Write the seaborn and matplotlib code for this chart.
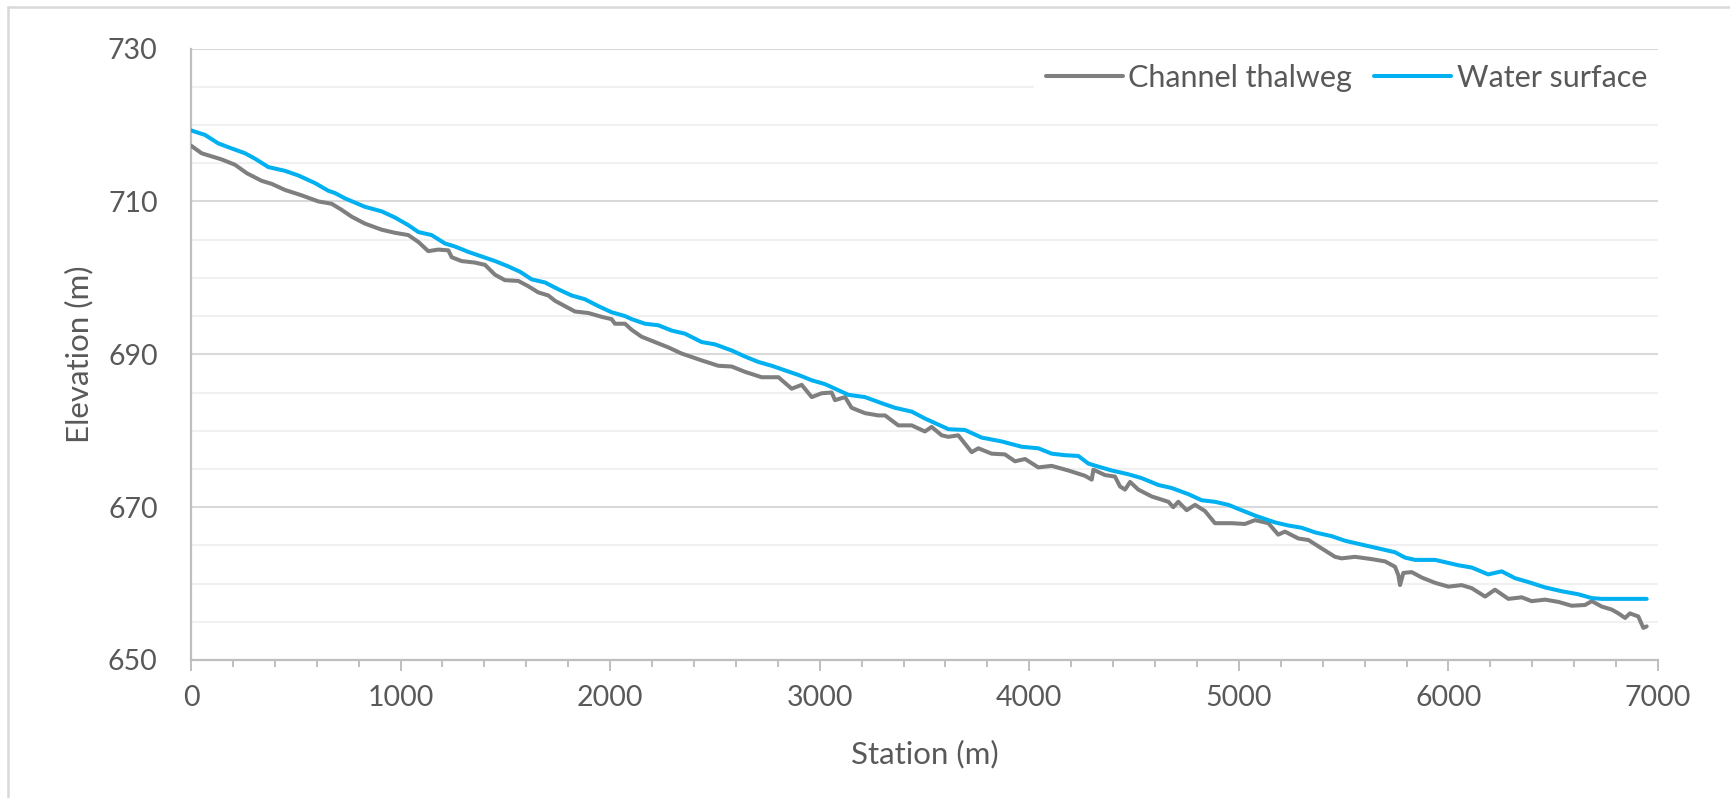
import numpy as np
import pandas as pd
import matplotlib
matplotlib.use("Agg")
import matplotlib.pyplot as plt
from matplotlib.lines import Line2D
from matplotlib.ticker import MultipleLocator
import seaborn as sns

# ---------------- data ----------------
thalweg_station = [0, 51, 146, 210, 266, 337, 385, 449, 528, 608, 671, 719, 767, 830, 910, 973,
                   1037, 1085, 1132, 1180, 1228, 1244, 1291, 1355, 1403, 1451, 1498, 1562, 1610,
                   1657, 1705, 1737, 1785, 1832, 1896, 1960, 2007, 2023, 2071, 2103, 2150, 2214,
                   2278, 2341, 2437, 2516, 2580, 2644, 2723, 2803, 2866, 2914, 2962, 3009, 3057,
                   3073, 3121, 3152, 3216, 3280, 3312, 3375, 3439, 3502, 3534, 3582, 3614, 3661,
                   3725, 3757, 3820, 3884, 3932, 3980, 4043, 4107, 4186, 4266, 4298, 4306, 4361,
                   4409, 4433, 4457, 4481, 4520, 4584, 4664, 4687, 4711, 4751, 4791, 4838, 4886,
                   4966, 5029, 5077, 5141, 5188, 5220, 5284, 5332, 5395, 5459, 5491, 5554, 5634,
                   5698, 5745, 5761, 5769, 5785, 5825, 5872, 5936, 6000, 6063, 6111, 6175, 6222,
                   6286, 6350, 6397, 6461, 6525, 6588, 6652, 6684, 6731, 6779, 6811, 6843, 6866,
                   6906, 6930, 6946]
thalweg_elev = [717.3, 716.3, 715.5, 714.8, 713.7, 712.7, 712.3, 711.5, 710.8, 710.0, 709.7, 708.9,
                708.0, 707.1, 706.3, 705.9, 705.6, 704.7, 703.5, 703.7, 703.6, 702.7, 702.2, 702.0,
                701.7, 700.4, 699.7, 699.6, 698.9, 698.1, 697.7, 697.0, 696.3, 695.6, 695.4, 694.9,
                694.6, 694.0, 694.0, 693.2, 692.3, 691.6, 690.9, 690.1, 689.2, 688.5, 688.4, 687.7,
                687.0, 687.0, 685.5, 686.0, 684.4, 684.9, 685.0, 684.0, 684.4, 683.0, 682.3, 682.0,
                682.0, 680.7, 680.7, 679.9, 680.5, 679.4, 679.2, 679.4, 677.2, 677.7, 677.0, 676.9,
                676.0, 676.3, 675.2, 675.4, 674.8, 674.1, 673.6, 674.9, 674.2, 674.0, 672.7, 672.3,
                673.3, 672.3, 671.4, 670.7, 670.0, 670.7, 669.6, 670.3, 669.5, 667.9, 667.9, 667.8,
                668.3, 667.9, 666.4, 666.8, 665.9, 665.7, 664.6, 663.5, 663.3, 663.5, 663.2, 662.9,
                662.2, 661.1, 659.8, 661.4, 661.5, 660.8, 660.1, 659.6, 659.8, 659.4, 658.3, 659.2,
                658.0, 658.2, 657.7, 657.9, 657.6, 657.1, 657.2, 657.7, 657.0, 656.6, 656.1, 655.5,
                656.1, 655.7, 654.2, 654.4]

water_station = [0, 67, 130, 178, 258, 305, 369, 449, 512, 592, 655, 687, 735, 830, 910, 973, 1037,
                 1085, 1148, 1212, 1260, 1323, 1387, 1451, 1514, 1570, 1626, 1689, 1753, 1816, 1880,
                 1944, 2007, 2071, 2103, 2166, 2230, 2294, 2357, 2437, 2500, 2580, 2644, 2707, 2771,
                 2834, 2898, 2962, 3025, 3089, 3137, 3216, 3296, 3359, 3439, 3502, 3566, 3614, 3693,
                 3773, 3868, 3964, 4043, 4107, 4170, 4234, 4282, 4330, 4393, 4473, 4536, 4616, 4680,
                 4759, 4823, 4886, 4950, 5013, 5077, 5109, 5173, 5236, 5300, 5363, 5443, 5507, 5586,
                 5666, 5745, 5793, 5841, 5936, 6000, 6047, 6111, 6190, 6254, 6318, 6381, 6461, 6540,
                 6620, 6684, 6731, 6946]
water_elev = [719.3, 718.7, 717.6, 717.1, 716.3, 715.6, 714.5, 714.0, 713.4, 712.4, 711.4, 711.1,
              710.4, 709.3, 708.7, 707.9, 706.9, 706.0, 705.6, 704.5, 704.1, 703.4, 702.8, 702.2,
              701.5, 700.8, 699.8, 699.4, 698.5, 697.7, 697.2, 696.3, 695.5, 695.0, 694.6, 694.0,
              693.8, 693.1, 692.7, 691.6, 691.3, 690.5, 689.7, 689.0, 688.5, 687.9, 687.3, 686.6,
              686.1, 685.3, 684.7, 684.4, 683.6, 683.0, 682.5, 681.6, 680.8, 680.2, 680.1, 679.1,
              678.6, 677.9, 677.7, 677.0, 676.8, 676.7, 675.7, 675.3, 674.8, 674.3, 673.8, 672.9,
              672.5, 671.7, 670.9, 670.7, 670.3, 669.6, 668.9, 668.6, 668.0, 667.6, 667.3, 666.7,
              666.2, 665.6, 665.1, 664.6, 664.1, 663.4, 663.1, 663.1, 662.7, 662.4, 662.1, 661.2,
              661.6, 660.7, 660.2, 659.5, 659.0, 658.6, 658.1, 658.0, 658.0]

series_names = ["Channel thalweg", "Water surface"]
series_colors = ["#7f7f7f", "#00b0f0"]
x_ticks = [0, 1000, 2000, 3000, 4000, 5000, 6000, 7000]
y_ticks = [650, 670, 690, 710, 730]

# ---------------- style ----------------
sns.set_theme(style="white")
plt.rcParams["font.family"] = ["Lato", "DejaVu Sans"]
TXT = "#595959"
AXC = "#bfbfbf"

W, H, DPI = 1730, 798, 100
fig = plt.figure(figsize=(W / DPI, H / DPI), dpi=DPI)
ax = fig.add_axes([191 / W, 1 - 660 / H, (1658 - 191) / W, (660 - 48.6) / H])

df_t = pd.DataFrame({"Station": thalweg_station, "Elevation": thalweg_elev})
df_w = pd.DataFrame({"Station": water_station, "Elevation": water_elev})

sns.lineplot(data=df_t, x="Station", y="Elevation", ax=ax, color=series_colors[0],
             linewidth=2.9, label=series_names[0], estimator=None, sort=False, zorder=3)
sns.lineplot(data=df_w, x="Station", y="Elevation", ax=ax, color=series_colors[1],
             linewidth=2.9, label=series_names[1], estimator=None, sort=False, zorder=4)

ax.set_xlim(0, 7000)
ax.set_ylim(650, 730)
ax.set_xticks(x_ticks)
ax.set_yticks(y_ticks)
ax.xaxis.set_minor_locator(MultipleLocator(200))
ax.yaxis.set_minor_locator(MultipleLocator(5))

ax.grid(True, which="major", axis="y", color="#d9d9d9", linewidth=1.5, zorder=0)
ax.grid(True, which="minor", axis="y", color="#f0f0f0", linewidth=1.5, zorder=0)
ax.grid(False, axis="x", which="both")
ax.set_axisbelow(True)

for s in ["top", "right"]:
    ax.spines[s].set_visible(False)
for s in ["left", "bottom"]:
    ax.spines[s].set_color(AXC)
    ax.spines[s].set_linewidth(1.6)
    ax.spines[s].set_zorder(2)

ax.tick_params(axis="x", which="major", direction="out", length=8, width=1.4, color=AXC,
               labelsize=20.5, labelcolor=TXT, pad=10, bottom=True)
ax.tick_params(axis="x", which="minor", direction="out", length=5, width=1.4, color=AXC,
               bottom=True)
ax.tick_params(axis="y", which="both", length=0, labelsize=20.5, labelcolor=TXT, pad=24, left=True)

ax.set_xlabel("Station (m)", fontsize=22.5, color=TXT, va="center")
ax.set_ylabel("Elevation (m)", fontsize=22.5, color=TXT, va="center")
ax.xaxis.set_label_coords(0.5, (660 - 754) / (660 - 48.6))
ax.yaxis.set_label_coords((79 - 191) / (1658 - 191), 0.5)

leg = ax.legend(loc="center right", bbox_to_anchor=(1.001, 0.952), ncol=2, frameon=True,
                fontsize=22, handlelength=2.52, handletextpad=0.18, columnspacing=0.72,
                borderpad=0.4, borderaxespad=0.0, fancybox=False)
leg.get_frame().set_facecolor("white")
leg.get_frame().set_edgecolor("white")
leg.get_frame().set_alpha(1.0)
for t in leg.get_texts():
    t.set_color(TXT)
for h in leg.legend_handles:
    h.set_linewidth(2.9)

# outer chart border (left and top visible in the reference)
fig.add_artist(Line2D([8 / W, 8 / W], [0, 1 - 7 / H], color="#d9d9d9", linewidth=1.8))
fig.add_artist(Line2D([8 / W, 1], [1 - 7 / H, 1 - 7 / H], color="#d9d9d9", linewidth=1.8))

fig.savefig("out.png", dpi=DPI, facecolor="white")
